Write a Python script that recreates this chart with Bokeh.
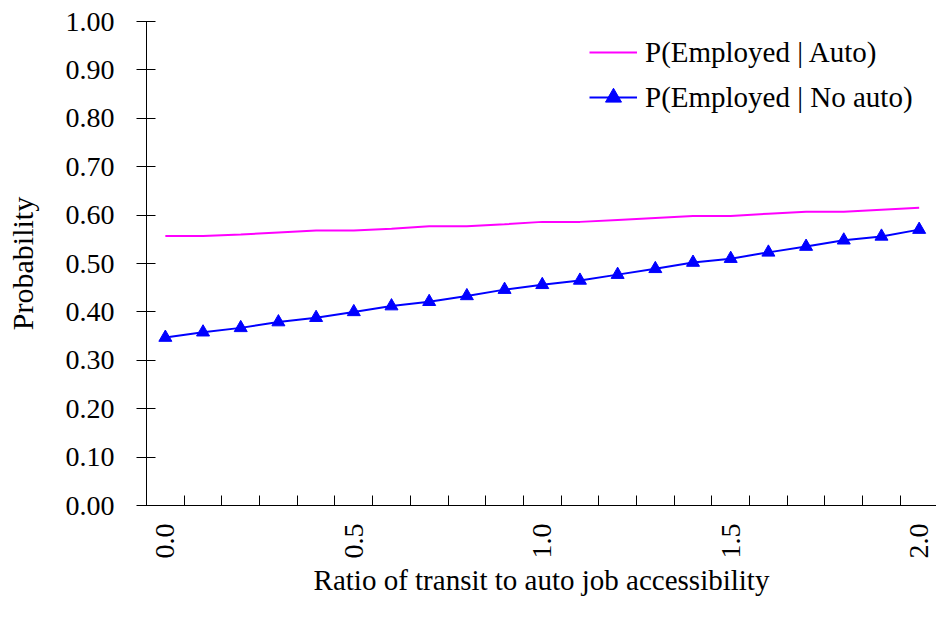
import math
from bokeh.plotting import figure
from bokeh.models import Range1d, FixedTicker, NumeralTickFormatter, Legend, LegendItem
from bokeh.embed import file_html
from bokeh.resources import INLINE

ratio = [0.0, 0.1, 0.2, 0.3, 0.4, 0.5, 0.6, 0.7, 0.8, 0.9, 1.0,
         1.1, 1.2, 1.3, 1.4, 1.5, 1.6, 1.7, 1.8, 1.9, 2.0]
p_auto = [0.557, 0.557, 0.560, 0.564, 0.568, 0.568, 0.572, 0.577, 0.577, 0.581, 0.586,
          0.586, 0.590, 0.594, 0.598, 0.598, 0.603, 0.607, 0.607, 0.611, 0.615]
p_noauto = [0.347, 0.358, 0.367, 0.379, 0.388, 0.400, 0.412, 0.421, 0.433, 0.446, 0.456,
            0.465, 0.477, 0.489, 0.502, 0.510, 0.523, 0.535, 0.548, 0.556, 0.570]
y_ticks = [0.0, 0.1, 0.2, 0.3, 0.4, 0.5, 0.6, 0.7, 0.8, 0.9, 1.0]
x_label_ticks = [0.0, 0.5, 1.0, 1.5, 2.0]
x_boundaries = [-0.05 + 0.1 * i for i in range(22)]

FONT = "Liberation Serif"

p = figure(width=936, height=615, output_backend="svg", toolbar_location=None,
           x_range=Range1d(-0.05, 2.046), y_range=Range1d(0, 1.0))
p.min_border = 0
p.min_border_left = 146
p.min_border_top = 21
p.min_border_bottom = 110
p.min_border_right = 0
p.outline_line_color = None
p.xgrid.visible = False
p.ygrid.visible = False
p.background_fill_color = "white"
p.border_fill_color = "white"

r1 = p.line(ratio, p_auto, line_color="#ff00ff", line_width=2)
r2 = p.line(ratio, p_noauto, line_color="#0000ff", line_width=2)
r3 = p.scatter(ratio, p_noauto, marker="triangle", size=13,
               fill_color="#0000ff", line_color="#0000ff")

# Y axis
ya = p.yaxis[0]
ya.ticker = FixedTicker(ticks=y_ticks, minor_ticks=[])
ya.formatter = NumeralTickFormatter(format="0.00")
ya.major_tick_out = 10
ya.major_tick_in = 9
ya.minor_tick_out = 0
ya.minor_tick_in = 0
ya.major_label_standoff = 22
ya.major_label_text_font = FONT
ya.major_label_text_font_size = "28px"
ya.major_label_text_color = "black"
ya.axis_line_color = "black"
ya.major_tick_line_color = "black"
ya.axis_label = "Probability"
ya.axis_label_text_font = FONT
ya.axis_label_text_font_size = "30px"
ya.axis_label_text_font_style = "normal"
ya.axis_label_text_color = "black"
ya.axis_label_standoff = 24

# X axis
xa = p.xaxis[0]
xa.ticker = FixedTicker(ticks=x_label_ticks, minor_ticks=x_boundaries)
xa.formatter = NumeralTickFormatter(format="0.0")
xa.major_tick_out = 0
xa.major_tick_in = 0
xa.minor_tick_out = 0
xa.minor_tick_in = 10
xa.minor_tick_line_color = "black"
xa.axis_line_color = "black"
xa.major_label_orientation = math.pi / 2
xa.major_label_standoff = 18
xa.major_label_text_font = FONT
xa.major_label_text_font_size = "28px"
xa.major_label_text_color = "black"
xa.axis_label = "Ratio of transit to auto job accessibility"
xa.axis_label_text_font = FONT
xa.axis_label_text_font_size = "29px"
xa.axis_label_text_font_style = "normal"
xa.axis_label_text_color = "black"
xa.axis_label_standoff = 2

legend = Legend(items=[
    LegendItem(label="P(Employed | Auto)", renderers=[r1]),
    LegendItem(label="P(Employed | No auto)", renderers=[r2, r3]),
], location=(443, 388))
legend.border_line_alpha = 0
legend.background_fill_alpha = 0
legend.label_text_font = FONT
legend.label_text_font_size = "29px"
legend.label_text_color = "black"
legend.glyph_width = 48
legend.glyph_height = 40
legend.label_height = 40
legend.spacing = 5
legend.padding = 0
legend.margin = 0
legend.label_standoff = 8
p.add_layout(legend)

open("out.html", "w").write(file_html(p, INLINE))
